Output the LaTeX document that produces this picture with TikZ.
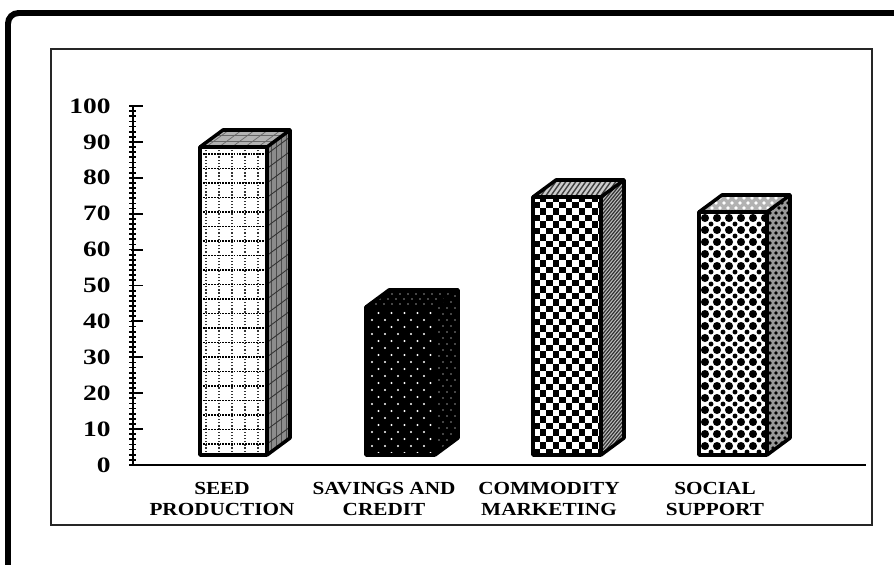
\documentclass[tikz,border=0pt]{standalone}
\usepackage{fontspec}
\setmainfont{Liberation Serif}
\usepackage{graphicx}
\usetikzlibrary{calc}
\tikzstyle{barline} = [draw=black, line width=2pt, line join=round]
\tikzstyle{ylab} = [anchor=east, inner sep=0pt, font=\fontsize{12.5}{14}\selectfont\bfseries]
\tikzstyle{xlab} = [anchor=north, inner sep=0pt, font=\fontsize{10.5}{12}\selectfont\bfseries]
\newcommand{\ywide}[1]{\scalebox{1.25}[1]{#1}}
\newcommand{\xwide}[1]{\scalebox{1.15}[1]{\begin{tabular}{@{}c@{}}#1\end{tabular}}}
% outline of one 3d column: left, right, top
\newcommand{\colbox}[3]{%
  \draw[barline] (#1,455) rectangle (#2,#3);
  \draw[barline] (#2,455) -- (#2+23,438) -- (#2+23,#3-17) -- (#2,#3);
  \draw[barline] (#1,#3) -- (#1+23,#3-17) -- (#2+23,#3-17);
}

\begin{document}
\begin{tikzpicture}[x=0.02cm,y=-0.02cm]
\useasboundingbox (0,0) rectangle (894,565);

% frames
\draw[line width=3.4pt, rounded corners=6pt] (8,565) -- (8,13) -- (894,13);
\draw[line width=1.1pt, draw=black!85] (51,49) rectangle (872,525);

% axes
\draw[line width=1.1pt] (133,106) -- (133,465) -- (866,465);
\foreach \k in {0,...,70}
  \draw[line width=1pt] (129,{465-35.9*\k/7}) -- (136,{465-35.9*\k/7});
\foreach \v in {0,10,...,100} {
  \draw[line width=1.1pt] (131,{465-3.59*\v}) -- (143,{465-3.59*\v});
  \node[ylab] (y\v) at (111,{465-3.59*\v}) {\ywide{\v}};
}

% seed production
\begin{scope}
  \clip (200,455) rectangle (267,147);
  \fill[white] (200,455) rectangle (267,147);
  \foreach \x in {206,219,...,266}
    \draw[black!80, line width=0.7pt, dash pattern=on 0.7pt off 1.1pt] (\x,455) -- (\x,147);
  \foreach \y in {154,168.5,...,455}
    \draw[black, line width=1.1pt, dash pattern=on 1pt off 0.6pt] (200,\y) -- (267,\y);
\end{scope}
\begin{scope}
  \clip (267,455) -- (290,438) -- (290,130) -- (267,147) -- cycle;
  \fill[black!45] (267,460) rectangle (290,120);
  \foreach \x in {271,276,...,290}
    \draw[black!70, line width=0.4pt] (\x,460) -- (\x,120);
  \foreach \y in {154,168.5,...,475}
    \draw[black!80, line width=0.5pt] (267,\y) -- (290,\y-17);
\end{scope}
\begin{scope}
  \clip (200,147) -- (223,130) -- (290,130) -- (267,147) -- cycle;
  \fill[black!30] (195,150) rectangle (295,125);
  \foreach \x in {206,219,...,290}
    \draw[black!60, line width=0.4pt] (\x,147) -- (\x+23,130);
  \foreach \y in {135.5,141.5}
    \draw[black!60, line width=0.4pt] (195,\y) -- (295,\y);
\end{scope}
\colbox{200}{267}{147}

% savings and credit
\begin{scope}
  \clip (366,455) rectangle (435,307);
  \fill[black] (366,455) rectangle (435,307);
  \foreach \y [count=\r] in {313,320,...,455}
    \foreach \x in {372,385,...,440}
      \fill[white] ({\x+mod(\r,2)*6.5},\y) circle (0.65pt);
\end{scope}
\begin{scope}
  \clip (435,455) -- (458,438) -- (458,290) -- (435,307) -- cycle;
  \fill[black] (435,460) rectangle (458,285);
  \foreach \y [count=\r] in {290,296,...,460}
    \foreach \x in {439,447,...,458}
      \fill[black!45] ({\x+mod(\r,2)*4},\y) circle (0.45pt);
\end{scope}
\begin{scope}
  \clip (366,307) -- (389,290) -- (458,290) -- (435,307) -- cycle;
  \fill[black] (360,310) rectangle (460,285);
  \foreach \y [count=\r] in {294,299,...,307}
    \foreach \x in {372,380,...,460}
      \fill[black!45] ({\x+mod(\r,2)*4},\y) circle (0.45pt);
\end{scope}
\colbox{366}{435}{307}

% commodity marketing
\begin{scope}
  \clip (533,455) rectangle (601,197);
  \fill[white] (533,455) rectangle (601,197);
  \foreach \i in {0,2,...,10}
    \foreach \j in {0,2,...,40} {
      \fill ({533+6.5*\i},{455-6.5*\j}) rectangle ++(6.5,-6.5);
      \fill ({539.5+6.5*\i},{448.5-6.5*\j}) rectangle ++(6.5,-6.5);
    }
\end{scope}
\begin{scope}
  \clip (601,455) -- (624,438) -- (624,180) -- (601,197) -- cycle;
  \fill[black!25] (601,460) rectangle (624,175);
  \foreach \y in {180,184,...,490}
    \draw[black!80, line width=0.7pt] (601,\y) -- (624,\y-28);
\end{scope}
\begin{scope}
  \clip (533,197) -- (556,180) -- (624,180) -- (601,197) -- cycle;
  \fill[black!20] (530,200) rectangle (630,175);
  \foreach \x in {520,525,...,630}
    \draw[black!75, line width=0.8pt] (\x,197) -- (\x+12,180);
\end{scope}
\colbox{533}{601}{197}

% social support
\begin{scope}
  \clip (699,455) rectangle (767,212);
  \fill[white] (699,455) rectangle (767,212);
  \foreach \y in {218,230,...,460}
    \foreach \x in {705,717,...,770} {
      \fill (\x,\y) circle (2.3pt);
      \fill (\x+6,\y+6) circle (1.4pt);
    }
\end{scope}
\begin{scope}
  \clip (767,455) -- (790,438) -- (790,195) -- (767,212) -- cycle;
  \fill[black!40] (767,460) rectangle (790,190);
  \foreach \y [count=\r] in {198,203,...,460}
    \foreach \x in {770,776,...,790}
      \fill ({\x+mod(\r,2)*3},\y) circle (1pt);
\end{scope}
\begin{scope}
  \clip (699,212) -- (722,195) -- (790,195) -- (767,212) -- cycle;
  \fill[black!30] (695,215) rectangle (795,190);
  \foreach \y [count=\r] in {198,203,...,212}
    \foreach \x in {700,708,...,795}
      \fill[white] ({\x+mod(\r,2)*4},\y) circle (1pt);
\end{scope}
\colbox{699}{767}{212}

% category labels
\node[xlab] (seed) at (222,479) {\xwide{SEED\\PRODUCTION}};
\node[xlab] (savings) at (384,479) {\xwide{SAVINGS AND\\CREDIT}};
\node[xlab] (commodity) at (549,479) {\xwide{COMMODITY\\MARKETING}};
\node[xlab] (social) at (715,479) {\xwide{SOCIAL\\SUPPORT}};

\end{tikzpicture}
\end{document}
